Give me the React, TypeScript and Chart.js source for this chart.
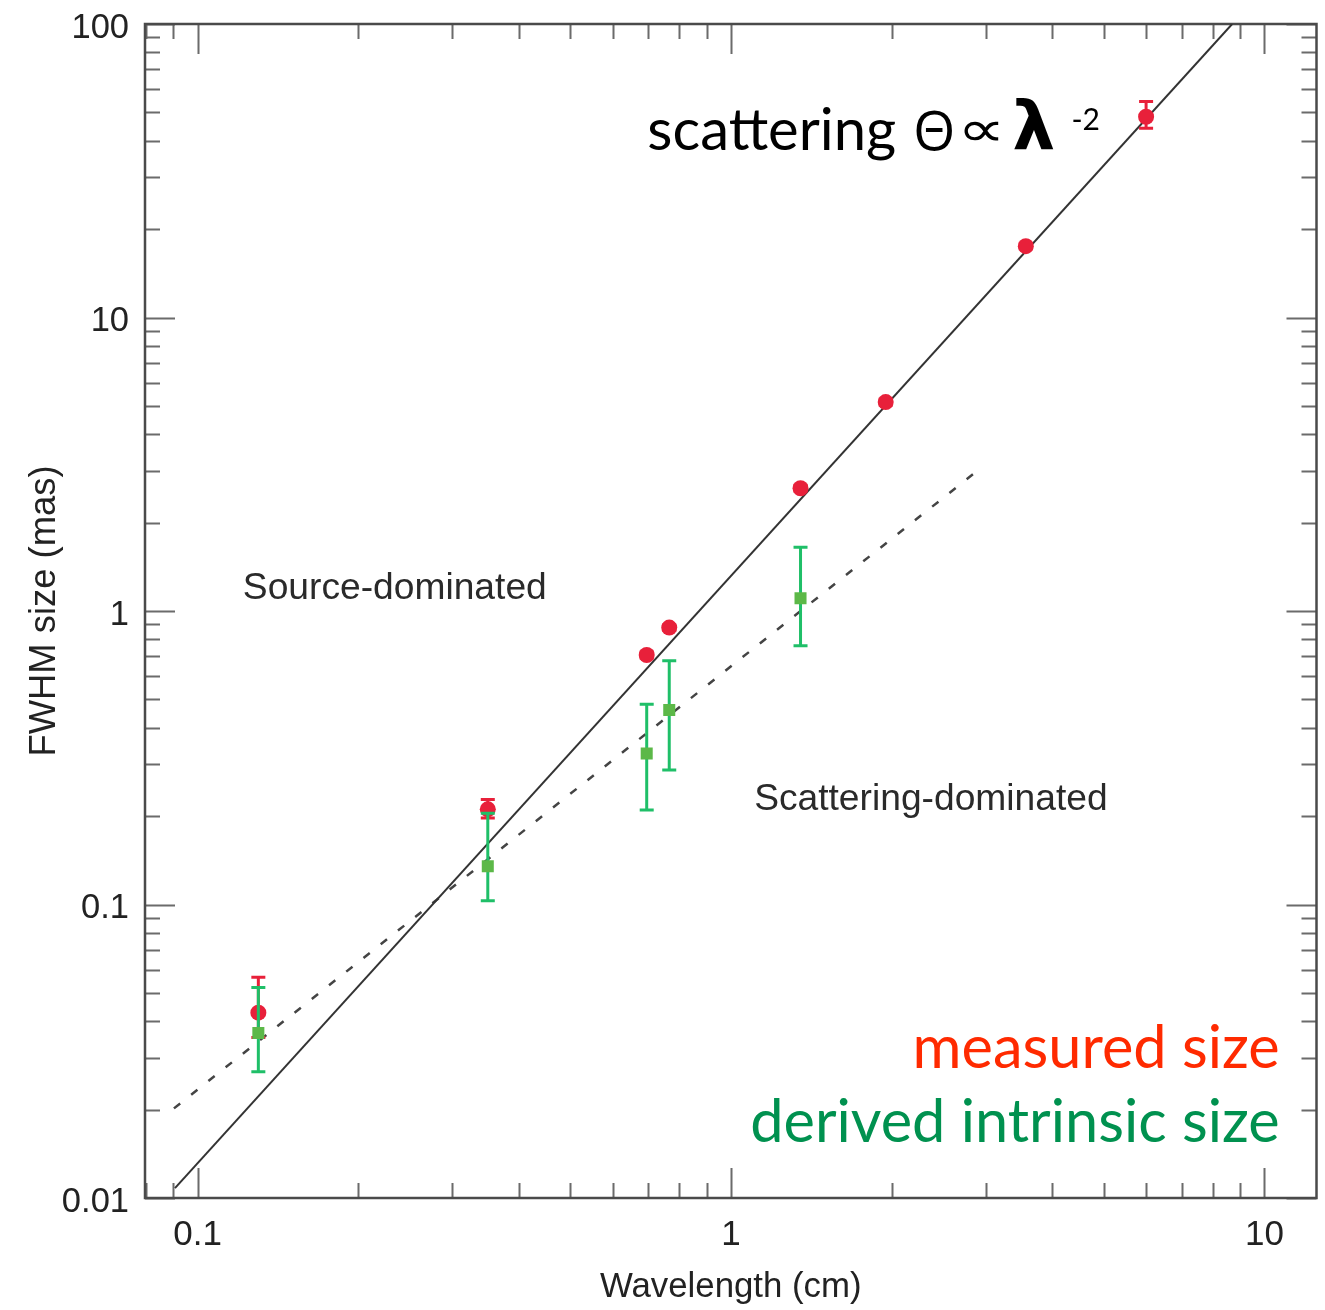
import React, { useEffect, useRef } from "react";
import { Chart, registerables } from "chart.js";

Chart.register(...registerables);

// ---- data ----
const measuredWavelength = [0.13, 0.35, 0.695, 0.766, 1.35, 1.95, 3.57, 6.0];
const measuredSize = [0.0428, 0.211, 0.708, 0.878, 2.62, 5.15, 17.5, 48.3];
const measuredLow = [0.0352, 0.197, 0.69, 0.86, 2.56, 5.02, 17.1, 44.1];
const measuredHigh = [0.0565, 0.228, 0.726, 0.897, 2.68, 5.28, 17.9, 54.4];

const intrinsicWavelength = [0.13, 0.35, 0.695, 0.766, 1.35];
const intrinsicSize = [0.0365, 0.135, 0.327, 0.46, 1.105];
const intrinsicLow = [0.0269, 0.103, 0.21, 0.287, 0.762];
const intrinsicHigh = [0.0521, 0.2046, 0.481, 0.677, 1.648];

const scatteringLawX = [0.0907, 8.7];
const scatteringLawY = [0.0108, 100];
const intrinsicTrendX = [0.0903, 2.96];
const intrinsicTrendY = [0.0202, 3.1];

const xRange = [0.0797, 12.52];
const yRange = [0.01, 100];
const xTickLabels = ["0.1", "1", "10"];
const yTickLabels = ["0.01", "0.1", "1", "10", "100"];

const SANS = '"Liberation Sans", Arial, Helvetica, sans-serif';
const GILL = 'Lato, "Open Sans", "DejaVu Sans", sans-serif';

const toPoints = (xs: number[], ys: number[]) => xs.map((x, i) => ({ x, y: ys[i] }));

const fmt = (v: number) => String(Number(v.toPrecision(6)));

const isDecade = (v: number) => {
  const l = Math.log10(v);
  return Math.abs(l - Math.round(l)) < 1e-9;
};

const errorBarPlugin = {
  id: "errorBars",
  beforeDatasetDraw(chart: any, args: any) {
    const ds = chart.data.datasets[args.index];
    if (!ds.errLow) return;
    const { ctx, scales } = chart;
    const xs = scales.x;
    const ys = scales.y;
    ctx.save();
    ctx.strokeStyle = ds.errColor;
    ctx.lineWidth = 3;
    ds.data.forEach((p: any, i: number) => {
      const px = xs.getPixelForValue(p.x);
      const y1 = ys.getPixelForValue(ds.errLow[i]);
      const y2 = ys.getPixelForValue(ds.errHigh[i]);
      ctx.beginPath();
      ctx.moveTo(px, y1);
      ctx.lineTo(px, y2);
      ctx.moveTo(px - 7, y1);
      ctx.lineTo(px + 7, y1);
      ctx.moveTo(px - 7, y2);
      ctx.lineTo(px + 7, y2);
      ctx.stroke();
    });
    ctx.restore();
  },
};

const framePlugin = {
  id: "frameTicks",
  beforeDatasetsDraw(chart: any) {
    const { ctx, chartArea: a, scales } = chart;
    const xs = scales.x;
    const ys = scales.y;
    ctx.save();
    ctx.strokeStyle = "#6b6b6b";
    ctx.lineWidth = 2;
    ctx.beginPath();
    for (let e = -2; e <= 1; e++) {
      for (let m = 1; m <= 9; m++) {
        const v = m * Math.pow(10, e);
        if (v < xs.min || v > xs.max) continue;
        const px = Math.round(xs.getPixelForValue(v)) + 0.5;
        const len = m === 1 ? 30 : 15;
        ctx.moveTo(px, a.bottom);
        ctx.lineTo(px, a.bottom - len);
        ctx.moveTo(px, a.top);
        ctx.lineTo(px, a.top + len);
      }
    }
    for (let e = -2; e <= 2; e++) {
      for (let m = 1; m <= 9; m++) {
        const v = m * Math.pow(10, e);
        if (v < ys.min * 0.999 || v > ys.max * 1.001) continue;
        const py = Math.round(ys.getPixelForValue(v)) + 0.5;
        const len = m === 1 ? 30 : 15;
        ctx.moveTo(a.left, py);
        ctx.lineTo(a.left + len, py);
        ctx.moveTo(a.right, py);
        ctx.lineTo(a.right - len, py);
      }
    }
    ctx.stroke();
    ctx.strokeStyle = "#4a4a4a";
    ctx.lineWidth = 2.5;
    ctx.strokeRect(a.left, a.top, a.right - a.left, a.bottom - a.top);
    ctx.restore();
  },
};

const annotationPlugin = {
  id: "annotations",
  afterDraw(chart: any) {
    const { ctx, scales } = chart;
    const X = (v: number) => scales.x.getPixelForValue(v);
    const Y = (v: number) => scales.y.getPixelForValue(v);
    ctx.save();
    ctx.textAlign = "left";
    ctx.textBaseline = "middle";
    ctx.fillStyle = "#2a2a2a";
    ctx.font = `37.2px ${SANS}`;
    ctx.fillText("Source-dominated", X(0.1216), Y(1.188));
    ctx.fillText("Scattering-dominated", X(1.105), Y(0.2272));

    // formula
    const fx = X(0.697);
    const fy = Y(37.2);
    ctx.textBaseline = "alphabetic";
    ctx.fillStyle = "#000";
    ctx.font = `58px ${GILL}`;
    ctx.fillText("scattering", fx, fy);
    ctx.font = `54px "Open Sans", "DejaVu Sans", sans-serif`;
    ctx.fillText("Θ", fx + 266, fy);
    ctx.save();
    ctx.translate(fx + 310, fy - 4);
    ctx.scale(1.35, 1);
    ctx.font = `50px "DejaVu Sans", sans-serif`;
    ctx.fillText("∝", 0, 0);
    ctx.restore();
    ctx.font = `bold 68px "DejaVu Sans", sans-serif`;
    ctx.fillText("λ", fx + 365, fy);
    ctx.font = `30px ${GILL}`;
    ctx.fillText("-2", fx + 424, fy - 20);

    // legend texts
    ctx.textAlign = "right";
    ctx.font = `59.5px ${GILL}`;
    ctx.fillStyle = "#ff2a00";
    ctx.fillText("measured size", X(10.68), Y(0.0277));
    ctx.fillStyle = "#00914f";
    ctx.fillText("derived intrinsic size", X(10.68), Y(0.01552));
    ctx.restore();
  },
};

export default function App() {
  const ref = useRef<HTMLCanvasElement | null>(null);
  useEffect(() => {
    if (!ref.current) return;
    const chart = new Chart(ref.current, {
      type: "scatter",
      data: {
        datasets: [
          {
            label: "derived intrinsic size",
            data: toPoints(intrinsicWavelength, intrinsicSize),
            pointStyle: "rect",
            pointRadius: 8.5,
            backgroundColor: "#5cb848",
            borderWidth: 0,
            errLow: intrinsicLow,
            errHigh: intrinsicHigh,
            errColor: "#1fbf68",
          } as any,
          {
            label: "measured size",
            data: toPoints(measuredWavelength, measuredSize),
            pointStyle: "circle",
            pointRadius: 8,
            backgroundColor: "#e8203a",
            borderWidth: 0,
            errLow: measuredLow,
            errHigh: measuredHigh,
            errColor: "#e8203a",
          } as any,
          {
            label: "scattering law",
            data: toPoints(scatteringLawX, scatteringLawY),
            showLine: true,
            pointRadius: 0,
            borderColor: "#333333",
            borderWidth: 2,
            fill: false,
          },
          {
            label: "intrinsic trend",
            data: toPoints(intrinsicTrendX, intrinsicTrendY),
            showLine: true,
            pointRadius: 0,
            borderColor: "#444444",
            borderWidth: 2.5,
            borderDash: [8, 14],
            fill: false,
          },
        ],
      },
      options: {
        responsive: false,
        devicePixelRatio: 1,
        animation: false,
        layout: { padding: { left: 0, right: 7, top: 24, bottom: 0 } },
        plugins: { legend: { display: false }, tooltip: { enabled: false } },
        scales: {
          x: {
            type: "logarithmic",
            min: xRange[0],
            max: xRange[1],
            grid: { display: false, drawTicks: false },
            border: { display: false },
            ticks: {
              autoSkip: false,
              maxRotation: 0,
              padding: 16,
              color: "#222",
              font: { family: SANS, size: 35 },
              callback: (v: any) => {
                const s = fmt(Number(v));
                return isDecade(Number(v)) && xTickLabels.includes(s) ? s : "";
              },
            },
            title: {
              display: true,
              text: "Wavelength (cm)",
              color: "#222",
              font: { family: SANS, size: 34.8 },
              padding: { top: 0, bottom: 2 },
            },
            afterFit: (s: any) => {
              s.height = 112;
              s.paddingLeft = 0;
              s.paddingRight = 0;
            },
          },
          y: {
            type: "logarithmic",
            min: yRange[0],
            max: yRange[1],
            grid: { display: false, drawTicks: false },
            border: { display: false },
            ticks: {
              autoSkip: false,
              padding: 16,
              labelOffset: 4,
              color: "#222",
              font: { family: SANS, size: 34.5 },
              callback: (v: any) => {
                const s = fmt(Number(v));
                return isDecade(Number(v)) && yTickLabels.includes(s) ? s : "";
              },
            },
            title: {
              display: true,
              text: "FWHM size (mas)",
              color: "#222",
              font: { family: SANS, size: 36.4 },
              padding: { top: 23, bottom: 0 },
            },
            afterFit: (s: any) => {
              s.width = 145;
              s.paddingTop = 0;
              s.paddingBottom = 0;
            },
          },
        },
      },
      plugins: [framePlugin, errorBarPlugin, annotationPlugin],
    });
    return () => chart.destroy();
  }, []);
  return (
    <div style={{ position: "absolute", left: 0, top: 0, width: 1325, height: 1310 }}>
      <canvas ref={ref} width={1325} height={1310} style={{ display: "block" }} />
    </div>
  );
}
